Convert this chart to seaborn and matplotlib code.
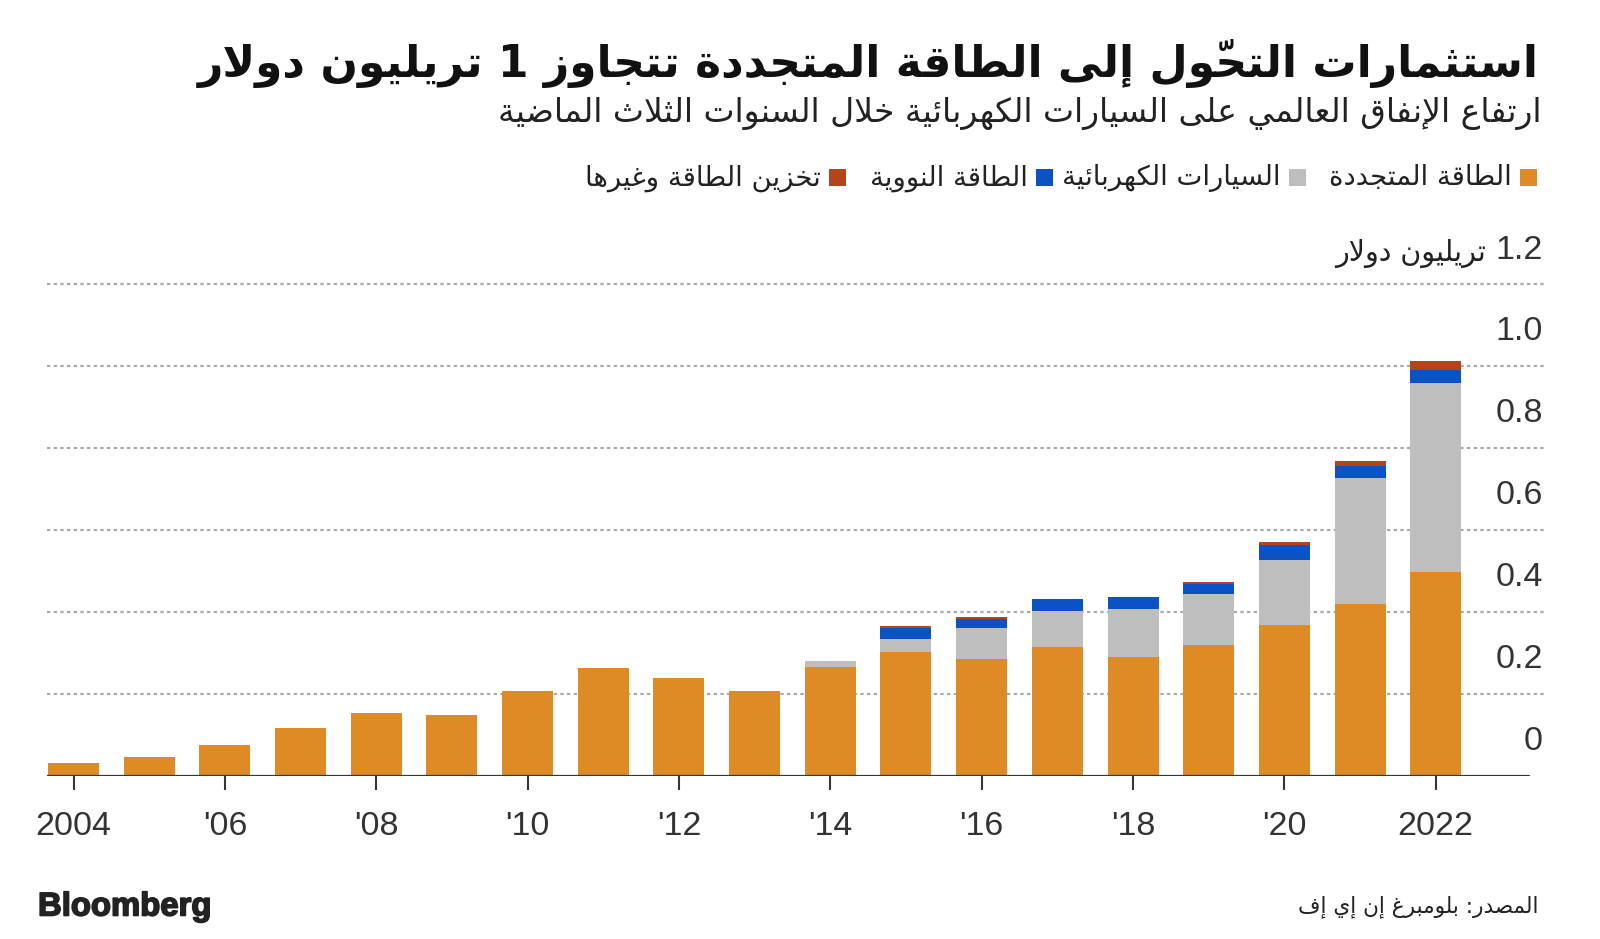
import matplotlib
matplotlib.use("Agg")
import matplotlib.pyplot as plt
import matplotlib.transforms as mtransforms
import matplotlib.patheffects as pe
from matplotlib.patches import Rectangle
import numpy as np
import seaborn as sns

# ---------------- data ----------------
years = list(range(2004, 2023))
renewable = [0.030, 0.044, 0.075, 0.117, 0.153, 0.148, 0.206, 0.262, 0.239, 0.206,
             0.266, 0.302, 0.284, 0.313, 0.290, 0.319, 0.367, 0.420, 0.498]
ev = [0, 0, 0, 0, 0, 0, 0, 0, 0, 0,
      0.014, 0.031, 0.075, 0.089, 0.117, 0.124, 0.159, 0.307, 0.461]
nuclear = [0, 0, 0, 0, 0, 0, 0, 0, 0, 0,
           0, 0.027, 0.024, 0.029, 0.030, 0.025, 0.036, 0.030, 0.031]
storage = [0, 0, 0, 0, 0, 0, 0, 0, 0, 0,
           0, 0.005, 0.005, 0, 0, 0.005, 0.007, 0.010, 0.023]

series_names = ["الطاقة المتجددة", "السيارات الكهربائية", "الطاقة النووية", "تخزين الطاقة وغيرها"]
series_colors = ["#DE8A26", "#BEBEBE", "#0B52C6", "#B3441C"]

xtick_years = [2004, 2006, 2008, 2010, 2012, 2014, 2016, 2018, 2020, 2022]
xtick_labels = ["2004", "'06", "'08", "'10", "'12", "'14", "'16", "'18", "'20", "2022"]
ytick_values = [0, 0.2, 0.4, 0.6, 0.8, 1.0, 1.2]
ytick_labels = ["0", "0.2", "0.4", "0.6", "0.8", "1.0", "1.2"]

title = "استثمارات التحوّل إلى الطاقة المتجددة تتجاوز 1 تريليون دولار"
subtitle = "ارتفاع الإنفاق العالمي على السيارات الكهربائية خلال السنوات الثلاث الماضية"
unit_label = "تريليون دولار"
source = "المصدر: بلومبرغ إن إي إف"

# ---------------- minimal Arabic shaping (presentation forms + visual order) ----------------
_table = [('\u0621', 0xFE80, 1), ('\u0622', 0xFE81, 2), ('\u0623', 0xFE83, 2), ('\u0624', 0xFE85, 2),
          ('\u0625', 0xFE87, 2), ('\u0626', 0xFE89, 4), ('\u0627', 0xFE8D, 2), ('\u0628', 0xFE8F, 4),
          ('\u0629', 0xFE93, 2), ('\u062A', 0xFE95, 4), ('\u062B', 0xFE99, 4), ('\u062C', 0xFE9D, 4),
          ('\u062D', 0xFEA1, 4), ('\u062E', 0xFEA5, 4), ('\u062F', 0xFEA9, 2), ('\u0630', 0xFEAB, 2),
          ('\u0631', 0xFEAD, 2), ('\u0632', 0xFEAF, 2), ('\u0633', 0xFEB1, 4), ('\u0634', 0xFEB5, 4),
          ('\u0635', 0xFEB9, 4), ('\u0636', 0xFEBD, 4), ('\u0637', 0xFEC1, 4), ('\u0638', 0xFEC5, 4),
          ('\u0639', 0xFEC9, 4), ('\u063A', 0xFECD, 4), ('\u0641', 0xFED1, 4), ('\u0642', 0xFED5, 4),
          ('\u0643', 0xFED9, 4), ('\u0644', 0xFEDD, 4), ('\u0645', 0xFEE1, 4), ('\u0646', 0xFEE5, 4),
          ('\u0647', 0xFEE9, 4), ('\u0648', 0xFEED, 2), ('\u0649', 0xFEEF, 2), ('\u064A', 0xFEF1, 4)]
_FORMS = {c: (s, n) for c, s, n in _table}
_LAMALEF = {'\u0622': 0xFEF5, '\u0623': 0xFEF7, '\u0625': 0xFEF9, '\u0627': 0xFEFB}


def _is_mark(c):
    return '\u064B' <= c <= '\u0652'


def ar(s):
    toks = []  # [kind, char, marks]
    i = 0
    while i < len(s):
        c = s[i]
        if _is_mark(c) and toks:
            toks[-1][2] += c
            i += 1
            continue
        if c == '\u0644' and i + 1 < len(s) and s[i + 1] in _LAMALEF:
            toks.append(['LA', s[i + 1], ''])
            i += 2
        else:
            toks.append(['C', c, ''])
            i += 1

    def joins(t):
        return t[0] == 'LA' or (t[1] in _FORMS and _FORMS[t[1]][1] >= 2)

    def dual(t):
        return t[0] == 'C' and t[1] in _FORMS and _FORMS[t[1]][1] == 4

    clusters = []
    for k, t in enumerate(toks):
        prev = toks[k - 1] if k > 0 else None
        nxt = toks[k + 1] if k + 1 < len(toks) else None
        cp = prev is not None and dual(prev) and joins(t)
        cn = dual(t) and nxt is not None and joins(nxt)
        if t[0] == 'LA':
            g = chr(_LAMALEF[t[1]] + (1 if cp else 0))
        elif t[1] in _FORMS:
            start, n = _FORMS[t[1]]
            if cp and cn:
                g = chr(start + 3)
            elif cp:
                g = chr(start + 1)
            elif cn:
                g = chr(start + 2)
            else:
                g = chr(start)
        else:
            g = t[1]
        clusters.append(g + t[2])
    out, run = [], []
    for cl in clusters:
        if cl.isascii() and (cl.isalnum() or cl == '.'):
            run.append(cl)
        else:
            if run:
                out.append(''.join(run))
                run = []
            out.append(cl)
    if run:
        out.append(''.join(run))
    return ''.join(reversed(out))


# ---------------- figure ----------------
sns.set_style("white")
plt.rcParams['font.family'] = ['DejaVu Sans']
W, H = 1600, 939
fig = plt.figure(figsize=(W / 100, H / 100), dpi=100)
fig.patch.set_facecolor("white")

ax_left, ax_right = 47, 1546
ax_bottom, ax_top = 775.5, 284.1
ax = fig.add_axes([ax_left / W, 1 - ax_bottom / H, (ax_right - ax_left) / W, (ax_bottom - ax_top) / H])
ax.set_facecolor("white")

bottom = np.zeros(len(years))
for vals, col in zip([renewable, ev, nuclear, storage], series_colors):
    sns.barplot(x=years, y=vals, bottom=bottom, color=col, saturation=1, native_scale=True,
                width=0.674, errorbar=None, linewidth=0, ax=ax, zorder=2)
    bottom = bottom + np.array(vals)

px_per_year = 75.68
xl = 2004 - (73.5 - ax_left) / px_per_year
ax.set_xlim(xl, xl + (ax_right - ax_left) / px_per_year)
ax.set_ylim(0, 1.2)

for s in ax.spines.values():
    s.set_visible(False)

ax.set_yticks(ytick_values[1:])
ax.tick_params(axis='y', length=0, labelleft=False, labelright=False)
ax.yaxis.grid(True, color="#a9a9a9", linestyle=(0, (1.6, 1.6)), linewidth=1.5)
ax.xaxis.grid(False)
ax.set_axisbelow(True)
for gl in ax.get_ygridlines():
    gl.set_clip_on(False)

ax.axhline(0, xmin=0, xmax=(1529 - ax_left) / (ax_right - ax_left), color="#33363d", lw=1.6, zorder=3)

ax.set_xticks(xtick_years)
ax.set_xticklabels(xtick_labels, fontfamily="Liberation Sans", fontsize=24.5, color="#333333")
ax.tick_params(axis='x', length=10, width=1.5, color="#33363d", pad=15.5, direction='out', bottom=True)
ax.set_xlabel("")
ax.set_ylabel("")

off = mtransforms.offset_copy(ax.get_yaxis_transform(), fig=fig, x=0, y=34, units='dots')
for v, lab in zip(ytick_values, ytick_labels):
    ax.text((1543 - ax_left) / (ax_right - ax_left), v, lab, transform=off, ha='right', va='center',
            fontfamily="Liberation Sans", fontsize=24.5, color="#333333")

renderer = fig.canvas.get_renderer()


def fit(txt, x, y, width_px, ha='right', size0=20, **kw):
    t = fig.text(x / W, 1 - y / H, txt, ha=ha, va='center', fontsize=size0, **kw)
    w = t.get_window_extent(renderer).width
    t.set_fontsize(size0 * width_px / w)
    return t


fit(ar(title), 1539, 63, 1338, weight='bold', color="#111111")
fit(ar(subtitle), 1541, 113, 1041, color="#222222")
fit(ar(unit_label), 1486, 253, 151, color="#222222")
fit(ar(source), 1539, 907, 241, color="#222222")
logo = fit("Bloomberg", 38, 907, 173, ha='left', weight='bold', fontfamily="Liberation Sans",
           color="#222222")
logo.set_path_effects([pe.withStroke(linewidth=1.2, foreground="#222222")])

# legend (right-to-left)
sq_right = [1537, 1306, 1053, 846]
sq = 17
tmp = [fig.text(0, 0, ar(n), fontsize=20) for n in series_names]
total = sum(t.get_window_extent(renderer).width for t in tmp)
for t in tmp:
    t.remove()
leg_fs = 20 * (191 + 212 + 165 + 226) / total
for name, col, xr in zip(series_names, series_colors, sq_right):
    fig.patches.append(Rectangle(((xr - sq) / W, 1 - (177 + sq / 2) / H), sq / W, sq / H,
                                 transform=fig.transFigure, facecolor=col, edgecolor='none'))
    fig.text((xr - sq - 8) / W, 1 - 178 / H, ar(name), ha='right', va='center', fontsize=leg_fs,
             color="#222222")

fig.savefig("out.png", dpi=100, facecolor="white")
